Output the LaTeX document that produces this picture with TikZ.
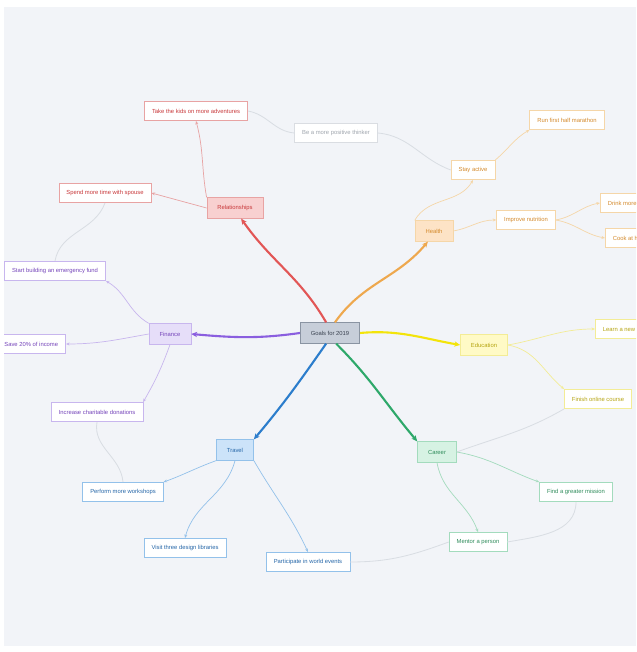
\documentclass[tikz,border=0pt]{standalone}
\usepackage{fontspec}
\setmainfont{Liberation Sans}
\usetikzlibrary{arrows.meta}

% branch colours: B border, F fill, T text, L thick line
\definecolor{bgcol}{HTML}{F2F4F8}
\definecolor{linkgray}{HTML}{D9DDE3}
\definecolor{goalB}{HTML}{8A94A2}
\definecolor{goalF}{HTML}{C7CED9}
\definecolor{goalT}{HTML}{3A4250}
\definecolor{relB}{HTML}{E8A3A3}
\definecolor{relF}{HTML}{F8D0D0}
\definecolor{relT}{HTML}{C8383A}
\definecolor{relL}{HTML}{E25656}
\definecolor{heaB}{HTML}{F5D6A8}
\definecolor{heaF}{HTML}{FDE3C6}
\definecolor{heaT}{HTML}{D48A2C}
\definecolor{heaL}{HTML}{EEA84E}
\definecolor{eduB}{HTML}{F3EC96}
\definecolor{eduF}{HTML}{FFFAC6}
\definecolor{eduT}{HTML}{B5A410}
\definecolor{eduL}{HTML}{F3E40A}
\definecolor{carB}{HTML}{A3DBBD}
\definecolor{carF}{HTML}{D6F2E3}
\definecolor{carT}{HTML}{2F8C5B}
\definecolor{carL}{HTML}{2EA86A}
\definecolor{traB}{HTML}{93C1EA}
\definecolor{traF}{HTML}{CCE3F9}
\definecolor{traT}{HTML}{2566A8}
\definecolor{traL}{HTML}{2C7DCC}
\definecolor{finB}{HTML}{C8B6EE}
\definecolor{finF}{HTML}{E6DEF9}
\definecolor{finT}{HTML}{7545BA}
\definecolor{finL}{HTML}{8A5EDF}
\definecolor{thinB}{HTML}{DADDE2}
\definecolor{thinT}{HTML}{A0A6AE}

\tikzset{
  topic/.style={draw=#1B, fill=#1F, text=#1T, line width=0.5pt,
    minimum height=0.62cm, inner xsep=9pt, font=\fontsize{5}{6}\selectfont},
  leaf/.style={draw=#1B, fill=white, text=#1T, line width=0.5pt,
    minimum height=0.58cm, inner xsep=6.5pt, font=\fontsize{5}{6}\selectfont},
  trunk/.style={draw=#1L, line width=1.8pt, -{Stealth[length=5pt,width=4.5pt]}},
  twig/.style={draw=#1B, line width=0.6pt, -{Stealth[length=3pt,width=2.5pt]}},
  xlink/.style={draw=linkgray, line width=0.7pt},
}

\begin{document}
\begin{tikzpicture}[x=0.03cm, y=0.03cm]
    \useasboundingbox (0,0) rectangle (636,652);
    \fill[bgcol] (4,6) rectangle (636,645);
    \clip (4,6) rectangle (636,645);

    % centre and main topics
    \node[topic=goal, minimum width=1.77cm] (goal) at (330,319) {Goals for 2019};
    \node[topic=rel] (rel) at (235,444) {Relationships};
    \node[topic=hea] (hea) at (434,421) {Health};
    \node[topic=edu] (edu) at (484,307) {Education};
    \node[topic=car] (car) at (437,200) {Career};
    \node[topic=tra] (tra) at (235,202) {Travel};
    \node[topic=fin] (fin) at (170,318) {Finance};

    % relationships
    \node[leaf=rel] (kids) at (196,541) {Take the kids on more adventures};
    \node[leaf=rel] (spouse) at (105,459) {Spend more time with spouse};
    \node[leaf=thin] (thinker) at (336,519) {Be a more positive thinker};

    % health
    \node[leaf=hea] (stay) at (473,482) {Stay active};
    \node[leaf=hea] (marathon) at (567,532) {Run first half marathon};
    \node[leaf=hea] (nutrition) at (526,432) {Improve nutrition};
    \node[leaf=hea, anchor=west] (drink) at (600,449) {Drink more water};
    \node[leaf=hea, anchor=west] (cook) at (605,414) {Cook at home};

    % education
    \node[leaf=edu, anchor=west] (skill) at (595,323) {Learn a new skill};
    \node[leaf=edu] (online) at (598,253) {Finish online course};

    % career
    \node[leaf=car] (mission) at (576,160) {Find a greater mission};
    \node[leaf=car] (mentor) at (478,110) {Mentor a person};

    % travel
    \node[leaf=tra] (workshops) at (123,160) {Perform more workshops};
    \node[leaf=tra] (libraries) at (185,104) {Visit three design libraries};
    \node[leaf=tra] (events) at (308,90) {Participate in world events};

    % finance
    \node[leaf=fin, anchor=east] (save) at (66,308) {Save 20\% of income};
    \node[leaf=fin] (fund) at (55,381) {Start building an emergency fund};
    \node[leaf=fin] (charity) at (97,240) {Increase charitable donations};

    % cross links
    \draw[xlink] (kids.east) to[out=-10,in=175] (thinker.west);
    \draw[xlink] (thinker.east) to[out=-5,in=160] (stay.west);
    \draw[xlink] (spouse.south) to[out=-110,in=80] (fund.north);
    \draw[xlink] (charity.south) to[out=-100,in=95] (workshops.north);
    \draw[xlink] (online.south west) to[out=-150,in=20] (car.east);
    \draw[xlink] (events.east) to[out=0,in=200] (mentor.west);
    \draw[xlink] (mentor.east) to[out=10,in=-90] (mission.south);

    % main branches
    \draw[trunk=rel] (goal.110) to[out=120,in=-55] (rel.-60);
    \draw[trunk=hea] (goal.65) to[out=55,in=-130] (hea.-120);
    \draw[trunk=edu] (goal.east) to[out=5,in=170] (edu.west);
    \draw[trunk=car] (goal.-60) to[out=-45,in=130] (car.north west);
    \draw[trunk=tra] (goal.-110) to[out=-125,in=50] (tra.north east);
    \draw[trunk=fin] (goal.west) to[out=188,in=-5] (fin.east);

    % sub branches
    \draw[twig=rel] (rel.north west) to[out=100,in=-75] (kids.south);
    \draw[twig=rel] (rel.west) -- (spouse.east);
    \draw[twig=hea] (hea.north west) to[out=60,in=-120] (stay.south);
    \draw[twig=hea] (stay.north east) to[out=40,in=-150] (marathon.south west);
    \draw[twig=hea] (hea.east) to[out=10,in=180] (nutrition.west);
    \draw[twig=hea] (nutrition.east) to[out=10,in=190] (drink.west);
    \draw[twig=hea] (nutrition.east) to[out=-10,in=170] (cook.west);
    \draw[twig=edu] (edu.east) to[out=10,in=180] (skill.west);
    \draw[twig=edu] (edu.east) to[out=-10,in=140] (online.north west);
    \draw[twig=car] (car.east) to[out=-10,in=160] (mission.north west);
    \draw[twig=car] (car.south) to[out=-80,in=110] (mentor.north);
    \draw[twig=tra] (tra.south west) to[out=-160,in=20] (workshops.north east);
    \draw[twig=tra] (tra.south) to[out=-105,in=75] (libraries.north);
    \draw[twig=tra] (tra.south east) to[out=-60,in=115] (events.north);
    \draw[twig=fin] (fin.west) to[out=190,in=0] (save.east);
    \draw[twig=fin] (fin.north west) to[out=150,in=-30] (fund.south east);
    \draw[twig=fin] (fin.south) to[out=-110,in=60] (charity.north east);
\end{tikzpicture}
\end{document}
